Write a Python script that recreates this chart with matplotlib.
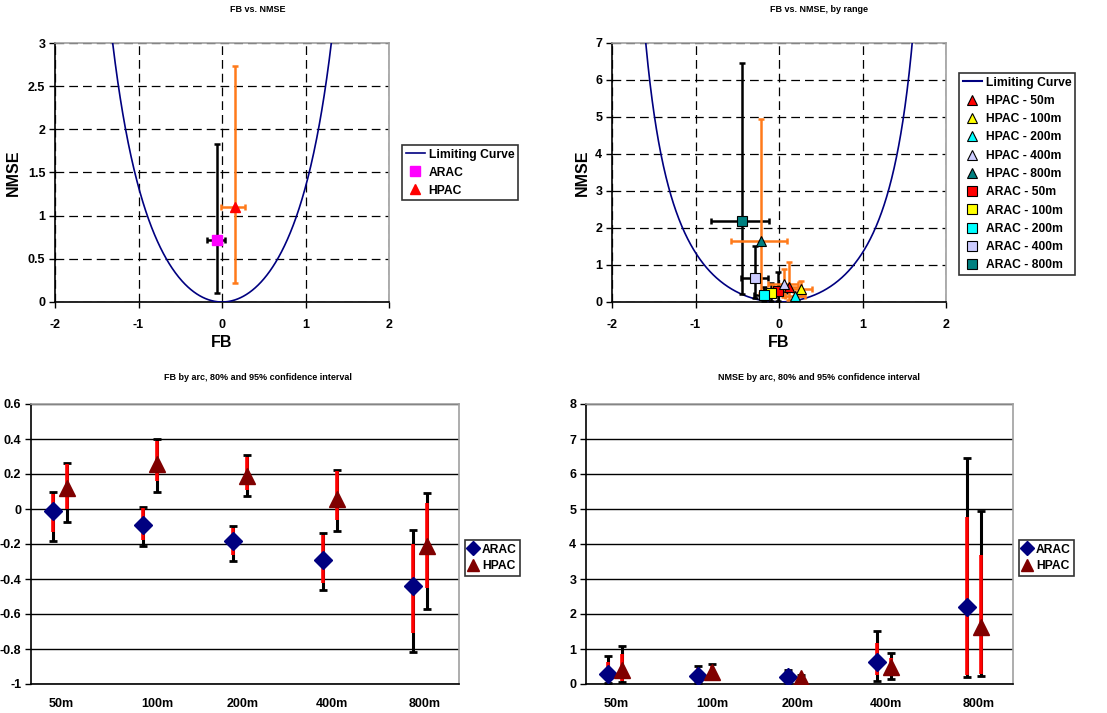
import numpy as np
import matplotlib
matplotlib.use("Agg")
import matplotlib.pyplot as plt
from matplotlib.lines import Line2D
from matplotlib.ticker import FuncFormatter

plt.rcParams['font.family'] = ['Liberation Sans', 'DejaVu Sans']
plt.rcParams['font.weight'] = 'bold'
plt.rcParams['axes.unicode_minus'] = False

# ---------------- data ----------------
categories = ['50m', '100m', '200m', '400m', '800m']

arac_fb = [-0.01, -0.09, -0.18, -0.29, -0.44]
arac_fb_lo95 = [-0.18, -0.21, -0.295, -0.46, -0.815]
arac_fb_hi95 = [0.095, 0.01, -0.095, -0.135, -0.12]
arac_fb_lo80 = [-0.13, -0.175, -0.26, -0.42, -0.71]
arac_fb_hi80 = [0.085, 0.005, -0.11, -0.15, -0.20]

hpac_fb = [0.12, 0.26, 0.19, 0.055, -0.21]
hpac_fb_lo95 = [-0.075, 0.10, 0.072, -0.128, -0.57]
hpac_fb_hi95 = [0.265, 0.40, 0.31, 0.225, 0.09]
hpac_fb_lo80 = [0.0, 0.16, 0.11, -0.06, -0.45]
hpac_fb_hi80 = [0.255, 0.39, 0.30, 0.215, 0.035]

arac_nmse = [0.30, 0.23, 0.19, 0.64, 2.19]
arac_nmse_lo95 = [0.02, 0.02, 0.04, 0.10, 0.21]
arac_nmse_hi95 = [0.80, 0.52, 0.40, 1.51, 6.46]
arac_nmse_lo80 = [0.07, 0.06, 0.07, 0.26, 0.26]
arac_nmse_hi80 = [0.64, 0.45, 0.35, 1.16, 4.78]

hpac_nmse = [0.41, 0.35, 0.16, 0.49, 1.64]
hpac_nmse_lo95 = [0.05, 0.16, 0.06, 0.13, 0.23]
hpac_nmse_hi95 = [1.09, 0.57, 0.26, 0.88, 4.94]
hpac_nmse_lo80 = [0.08, 0.19, 0.09, 0.26, 0.30]
hpac_nmse_hi80 = [0.87, 0.52, 0.22, 0.73, 3.68]

models = ['ARAC', 'HPAC']
overall_fb = [-0.06, 0.157]
overall_fb_lo = [-0.185, -0.01]
overall_fb_hi = [0.038, 0.27]
overall_nmse = [0.714, 1.10]
overall_nmse_lo = [0.104, 0.224]
overall_nmse_hi = [1.834, 2.73]

range_colors = ['#FF0000', '#FFFF00', '#00FFFF', '#CCCCFF', '#008080']
ORANGE = '#FF7A1A'
NAVY = '#000080'
DARKRED = '#800000'


def limiting_curve(fb):
    fb = np.asarray(fb)
    return 4 * fb ** 2 / (4 - fb ** 2)


W, H = 1107, 713
fig = plt.figure(figsize=(W / 100, H / 100), dpi=100)


def px_axes(x0, y0, x1, y1):
    return fig.add_axes([x0 / W, 1 - y1 / H, (x1 - x0) / W, (y1 - y0) / H])


def style_frame(ax):
    ax.spines['top'].set_color('#A0A0A0')
    ax.spines['right'].set_color('#A0A0A0')
    ax.spines['left'].set_color('black')
    ax.spines['bottom'].set_color('black')
    for s in ax.spines.values():
        s.set_linewidth(1.2)


def gfmt(v, pos):
    if abs(v) < 1e-9:
        return '0'
    return '%g' % round(v, 3)


def make_legend(ax, handles, xy, fontsize=8.7, handlelength=1.6, markerscale=1.0, labelspacing=0.5):
    kw = {}
    if handles is not None:
        kw['handles'] = handles
    leg = ax.legend(loc='upper left', bbox_to_anchor=xy, bbox_transform=fig.transFigure,
                    fontsize=fontsize, frameon=True, fancybox=False, edgecolor='black',
                    handlelength=handlelength, borderpad=0.3, labelspacing=labelspacing,
                    handletextpad=0.3, borderaxespad=0, markerscale=markerscale, **kw)
    leg.get_frame().set_linewidth(1.2)
    for t in leg.get_texts():
        t.set_fontweight('bold')
    return leg


def scatter_axes_style(ax, ylim, yticks, ylabel_x):
    ax.set_xlim(-2, 2)
    ax.set_ylim(*ylim)
    ax.set_xticks([-2, -1, 0, 1, 2])
    ax.set_yticks(yticks)
    ax.yaxis.set_major_formatter(FuncFormatter(gfmt))
    ax.grid(True, color='black', ls=(0, (7, 4)), lw=0.9)
    ax.set_axisbelow(True)
    style_frame(ax)
    ax.tick_params(labelsize=9, length=4, width=1, pad=3)
    ax.tick_params(axis='x', pad=8)
    for t in ax.get_xticklabels() + ax.get_yticklabels():
        t.set_fontweight('bold')
    ax.set_xlabel('FB', fontsize=11.5, fontweight='bold', va='center')
    ax.set_ylabel('NMSE', fontsize=11.5, fontweight='bold', va='center')
    ax.xaxis.set_label_coords(0.5, -0.158)
    ax.yaxis.set_label_coords(ylabel_x, 0.5)


fbc = np.linspace(-1.999, 1.999, 800)

# ---------------- top-left ----------------
ax1 = px_axes(55, 43, 389, 302)
ax1.plot(fbc, limiting_curve(fbc), color=NAVY, lw=1.2, label='Limiting Curve', zorder=3)
ebc = ['black', ORANGE]
mk = ['s', '^']
mc = ['#FF00FF', '#FF0000']
for i in range(2):
    ax1.errorbar(overall_fb[i], overall_nmse[i],
                 xerr=[[overall_fb[i] - overall_fb_lo[i]], [overall_fb_hi[i] - overall_fb[i]]],
                 yerr=[[overall_nmse[i] - overall_nmse_lo[i]], [overall_nmse_hi[i] - overall_nmse[i]]],
                 fmt='none', ecolor=ebc[i], elinewidth=1.8, capsize=2.5, capthick=1.8, zorder=4)
for i in range(2):
    ax1.plot(overall_fb[i], overall_nmse[i], marker=mk[i], color=mc[i], ms=7.5,
             mec=mc[i], ls='none', label=models[i], zorder=5)
scatter_axes_style(ax1, (0, 3), np.arange(0, 3.01, 0.5), -0.126)
make_legend(ax1, None, (402 / W, 1 - 145 / H))
fig.text(258 / W, 1 - 10 / H, 'FB vs. NMSE', ha='center', va='center', fontsize=6.5, fontweight='bold')

# ---------------- top-right ----------------
ax2 = px_axes(612, 43, 946, 302)
ax2.plot(fbc, limiting_curve(fbc), color=NAVY, lw=1.2, zorder=3)
for fb, nm, flo, fhi, nlo, nhi, col in [
        (arac_fb, arac_nmse, arac_fb_lo95, arac_fb_hi95, arac_nmse_lo95, arac_nmse_hi95, 'black'),
        (hpac_fb, hpac_nmse, hpac_fb_lo95, hpac_fb_hi95, hpac_nmse_lo95, hpac_nmse_hi95, ORANGE)]:
    fb = np.array(fb)
    nm = np.array(nm)
    ax2.errorbar(fb, nm, xerr=[fb - np.array(flo), np.array(fhi) - fb],
                 yerr=[nm - np.array(nlo), np.array(nhi) - nm],
                 fmt='none', ecolor=col, elinewidth=1.8, capsize=2.5, capthick=1.8, zorder=4)
handles = [Line2D([], [], color=NAVY, lw=1.5, label='Limiting Curve')]
hp_handles, ar_handles = [], []
for i, c in enumerate(categories):
    h, = ax2.plot(hpac_fb[i], hpac_nmse[i], marker='^', ms=7.5, mfc=range_colors[i], mec='black',
                  mew=0.8, ls='none', label='HPAC - ' + c, zorder=6)
    hp_handles.append(h)
for i, c in enumerate(categories):
    h, = ax2.plot(arac_fb[i], arac_nmse[i], marker='s', ms=6.5, mfc=range_colors[i], mec='black',
                  mew=0.8, ls='none', label='ARAC - ' + c, zorder=5)
    ar_handles.append(h)
handles += hp_handles + ar_handles
scatter_axes_style(ax2, (0, 7), range(0, 8), -0.09)
make_legend(ax2, handles, (959 / W, 1 - 73 / H), labelspacing=0.52)
fig.text(819 / W, 1 - 10 / H, 'FB vs. NMSE, by range', ha='center', va='center', fontsize=6.5, fontweight='bold')


# ---------------- bottom charts ----------------
label_pos = [0.09, 1.16, 2.11, 3.1, 4.13]
HPAC_OFFSET = 0.155


def ci_chart(ax, a_mean, a_lo95, a_hi95, a_lo80, a_hi80,
             h_mean, h_lo95, h_hi95, h_lo80, h_hi80, ylim, yticks, legend_xy, title, title_x):
    x = np.arange(len(categories))
    xh = x + HPAC_OFFSET
    for xx, m, lo95, hi95, lo80, hi80 in [(x, a_mean, a_lo95, a_hi95, a_lo80, a_hi80),
                                          (xh, h_mean, h_lo95, h_hi95, h_lo80, h_hi80)]:
        m = np.array(m)
        ax.errorbar(xx, m, yerr=[m - np.array(lo95), np.array(hi95) - m], fmt='none',
                    ecolor='black', elinewidth=2.2, capsize=3, capthick=2, zorder=3)
        ax.vlines(xx, lo80, hi80, colors='#FF0000', lw=2.6, zorder=4)
    ax.plot(x, a_mean, ls='none', marker='D', ms=9, color=NAVY, mec=NAVY, label='ARAC', zorder=5)
    ax.plot(xh, h_mean, ls='none', marker='^', ms=11, color=DARKRED, mec=DARKRED, label='HPAC', zorder=5)
    ax.set_xlim(-0.244, 4.51)
    ax.set_ylim(*ylim)
    ax.set_yticks(yticks)
    ax.yaxis.set_major_formatter(FuncFormatter(gfmt))
    ax.set_xticks(label_pos)
    ax.set_xticklabels(categories)
    ax.tick_params(axis='x', length=0, pad=10, labelsize=9)
    ax.tick_params(axis='y', length=4, width=1, pad=3, labelsize=9)
    for t in ax.get_xticklabels() + ax.get_yticklabels():
        t.set_fontweight('bold')
    ax.yaxis.grid(True, color='black', lw=1.0, ls='-')
    ax.set_axisbelow(True)
    style_frame(ax)
    make_legend(ax, None, legend_xy, handlelength=0.8, markerscale=0.75, labelspacing=0.4)
    fig.text(title_x / W, 1 - 377 / H, title, ha='center', va='center', fontsize=6.5, fontweight='bold')


ax3 = px_axes(31, 404, 459, 684)
ci_chart(ax3, arac_fb, arac_fb_lo95, arac_fb_hi95, arac_fb_lo80, arac_fb_hi80,
         hpac_fb, hpac_fb_lo95, hpac_fb_hi95, hpac_fb_lo80, hpac_fb_hi80,
         (-1, 0.6), np.round(np.arange(-1, 0.61, 0.2), 2), (465 / W, 1 - 540 / H),
         'FB by arc, 80% and 95% confidence interval', 258)

ax4 = px_axes(586, 404, 1013, 684)
ci_chart(ax4, arac_nmse, arac_nmse_lo95, arac_nmse_hi95, arac_nmse_lo80, arac_nmse_hi80,
         hpac_nmse, hpac_nmse_lo95, hpac_nmse_hi95, hpac_nmse_lo80, hpac_nmse_hi80,
         (0, 8), range(0, 9), (1019 / W, 1 - 540 / H),
         'NMSE by arc, 80% and 95% confidence interval', 819)

fig.savefig('out.png', dpi=100)
